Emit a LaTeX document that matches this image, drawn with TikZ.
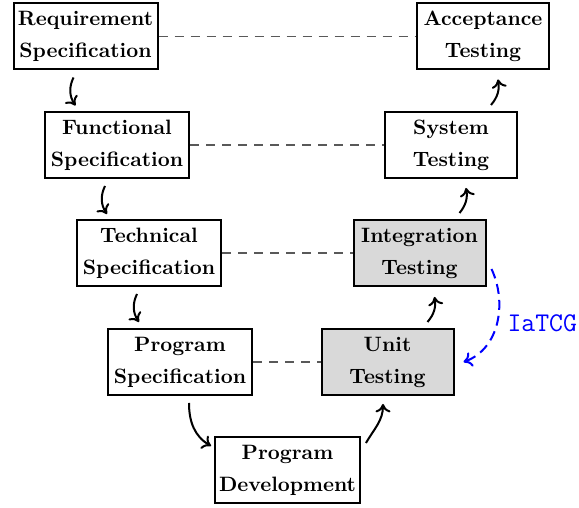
\documentclass[tikz,border=0pt]{standalone}
\usetikzlibrary{calc,arrows.meta}
\begin{document}
\begin{tikzpicture}[x=0.5pt,y=0.5pt,
  box/.style={draw=black,line width=1pt,align=center,minimum height=33pt,inner sep=2pt,
    font=\fontsize{10.4}{16}\selectfont\bfseries},
  lbox/.style={box,minimum width=72pt},
  rbox/.style={box,minimum width=66pt},
  tbox/.style={rbox,fill=black!15},
  link/.style={draw=black!65,line width=0.6pt,dash pattern=on 4.5pt off 3.5pt},
  tip/.style={-{To[length=4.2pt,width=7.5pt]}},
  flow/.style={line width=1pt,tip}]
\useasboundingbox (0,0) rectangle (579,508);
\node[lbox] (req)   at (85.5,471.5) {Requirement\\Specification};
\node[lbox] (func)  at (117,363)    {Functional\\Specification};
\node[lbox] (tech)  at (149,255)    {Technical\\Specification};
\node[lbox] (pspec) at (180,146)    {Program\\Specification};
\node[lbox] (pdev)  at (287.5,38)   {Program\\Development};
\node[tbox] (unit)  at (387.5,146)  {Unit\\Testing};
\node[tbox] (integ) at (419.5,255)  {Integration\\Testing};
\node[rbox] (sys)   at (451,363)    {System\\Testing};
\node[rbox] (acc)   at (483,471.5)  {Acceptance\\Testing};
\draw[link] (req) -- (acc);
\draw[link] (func) -- (sys);
\draw[link] (tech) -- (integ);
\draw[link] (pspec) -- (unit);
\draw[flow] ($(req.south)+(-12,-7)$) to[bend right=30] ($(req.south)+(-10,-35)$);
\draw[flow] ($(func.south)+(-12,-7)$) to[bend right=30] ($(func.south)+(-10,-35)$);
\draw[flow] ($(tech.south)+(-12,-7)$) to[bend right=30] ($(tech.south)+(-10,-35)$);
\draw[flow] ($(pspec.south)+(9,-7)$) to[out=-90,in=150] ($(pdev.west)+(-3,24)$);
\draw[flow] ($(pdev.east)+(5,27)$) to[out=60,in=-90] ($(unit.south)+(-4.5,-8)$);
\draw[flow] ($(unit.north)+(40,6)$) to[bend right=25] ($(integ.south)+(15,-10)$);
\draw[flow] ($(integ.north)+(40,6)$) to[bend right=25] ($(sys.south)+(15,-9)$);
\draw[flow] ($(sys.north)+(40,6)$) to[bend right=25] ($(acc.south)+(15,-9)$);
\draw[blue,line width=1pt,dash pattern=on 5pt off 3pt,tip]
  ($(integ.east)+(5,-16)$) to[out=-65,in=20] node[right=1.5pt,pos=0.5,solid,font=\fontsize{13.5}{15}\ttfamily] (lbl) {IaTCG} ($(unit.east)+(9,0)$);
\end{tikzpicture}
\end{document}
